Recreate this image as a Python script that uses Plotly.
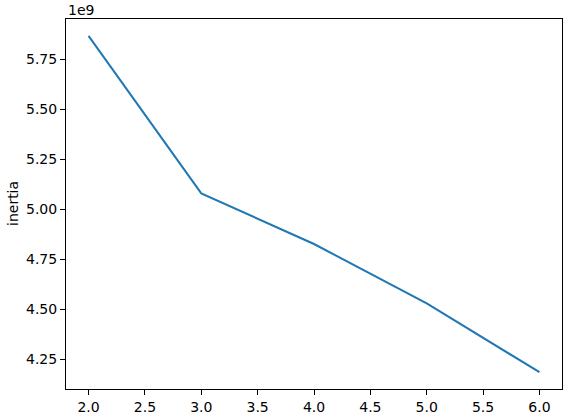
import plotly.graph_objects as go

# elbow curve: k vs inertia
k_values = [2, 3, 4, 5, 6]
inertia = [5.866e9, 5.078e9, 4.825e9, 4.528e9, 4.184e9]

x_ticks = [2.0, 2.5, 3.0, 3.5, 4.0, 4.5, 5.0, 5.5, 6.0]
y_ticks = [4.25e9, 4.50e9, 4.75e9, 5.00e9, 5.25e9, 5.50e9, 5.75e9]
y_ticktext = ["4.25", "4.50", "4.75", "5.00", "5.25", "5.50", "5.75"]

font_family = "DejaVu Sans"
font_size = 14

fig = go.Figure()
fig.add_trace(go.Scatter(x=k_values, y=inertia, mode="lines",
                         line=dict(color="#1f77b4", width=2),
                         showlegend=False))

axis_style = dict(showgrid=False, zeroline=False, showline=True, linecolor="black",
                  linewidth=1, mirror=True, ticks="outside", ticklen=5, tickwidth=1,
                  tickcolor="black", automargin=False,
                  tickfont=dict(family=font_family, size=font_size, color="black"))

fig.update_xaxes(range=[1.8, 6.2], tickvals=x_ticks,
                 ticktext=["%.1f" % t for t in x_ticks], **axis_style)
fig.update_yaxes(range=[4.1e9, 5.95e9], tickvals=y_ticks, ticktext=y_ticktext, **axis_style)

fig.add_annotation(text="1e9", xref="paper", yref="paper", x=0, y=1, xanchor="left",
                   yanchor="bottom", yshift=-1, showarrow=False,
                   font=dict(family=font_family, size=font_size, color="black"))
fig.add_annotation(text="inertia", xref="paper", yref="paper", x=0, y=0.5, xanchor="center",
                   yanchor="middle", xshift=-53, textangle=-90, showarrow=False,
                   font=dict(family=font_family, size=font_size, color="black"))
# x label sits mostly below the visible page in the reference
fig.add_annotation(text="k", xref="paper", yref="paper", x=0.5, y=0, xanchor="center",
                   yanchor="top", yshift=-27, showarrow=False,
                   font=dict(family=font_family, size=font_size, color="black"))

fig.update_layout(width=576, height=420, plot_bgcolor="white", paper_bgcolor="white",
                  margin=dict(l=66, r=14, t=19, b=31),
                  font=dict(family=font_family, size=font_size, color="black"))

fig.write_html("out.html", config={"displayModeBar": False},
               post_script="document.body.style.margin='0';document.body.style.overflow='hidden';")
